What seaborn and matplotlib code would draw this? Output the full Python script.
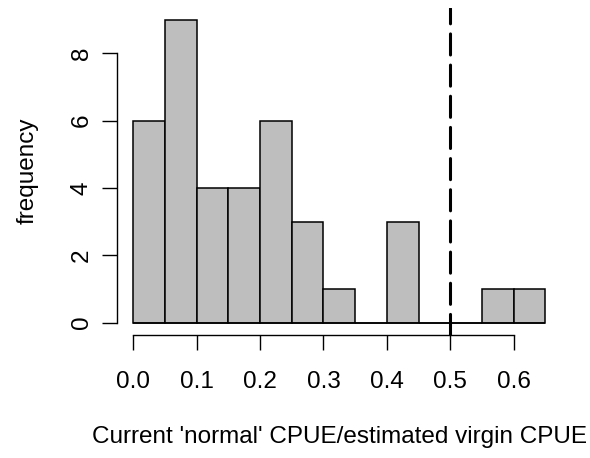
import numpy as np
import pandas as pd
import matplotlib
matplotlib.use("Agg")
import matplotlib.pyplot as plt
import seaborn as sns

# Histogram of the current/virgin CPUE ratio, bin width 0.05
bin_edges = [0.0, 0.05, 0.10, 0.15, 0.20, 0.25, 0.30, 0.35, 0.40, 0.45, 0.50, 0.55, 0.60, 0.65]
counts = [6, 9, 4, 4, 6, 3, 1, 0, 3, 0, 0, 1, 1]
x_ticks = [0.0, 0.1, 0.2, 0.3, 0.4, 0.5, 0.6]
y_ticks = [0, 2, 4, 6, 8]
reference_ratio = 0.5

sns.set_theme(style="white")
plt.rcParams["font.family"] = ["Liberation Sans", "DejaVu Sans"]

edges = np.array(bin_edges)
df = pd.DataFrame({
    "ratio": (edges[:-1] + edges[1:]) / 2,
    "count": counts,
})

fig = plt.figure(figsize=(5.9, 4.58), dpi=100)
ax = fig.add_axes([0.1978, 0.269, 0.9525 - 0.1978, 0.9834 - 0.269])

sns.histplot(data=df, x="ratio", weights="count", bins=bin_edges,
             color="#BEBEBE", alpha=1.0, edgecolor="black", linewidth=1.1, ax=ax)

# empty bins still show their outline along the zero line
ax.hlines(0, edges[0], edges[-1], color="black", linewidth=1.1, zorder=3)

span_x = edges[-1] - edges[0]
ax.set_xlim(edges[0] - 0.04 * span_x, edges[-1] + 0.04 * span_x)
ymax = max(counts)
ax.set_ylim(-0.04 * ymax, ymax * 1.04)

ax.axvline(reference_ratio, color="black", linewidth=2.2,
           linestyle=(0, (6.9, 3.3)), dash_capstyle="round", zorder=4)

for side in ("top", "right"):
    ax.spines[side].set_visible(False)
ax.spines["bottom"].set_bounds(x_ticks[0], x_ticks[-1])
ax.spines["left"].set_bounds(y_ticks[0], y_ticks[-1])
for side in ("bottom", "left"):
    ax.spines[side].set_linewidth(1.0)
    ax.spines[side].set_color("black")

fs = 17.5
ax.set_xticks(x_ticks)
ax.set_xticklabels([f"{t:.1f}" for t in x_ticks])
ax.set_yticks(y_ticks)
ax.set_yticklabels([str(t) for t in y_ticks], rotation=90, va="center")
ax.tick_params(axis="both", direction="out", length=10.6, width=1.0,
               color="black", labelsize=fs, labelcolor="black",
               bottom=True, left=True)
ax.tick_params(axis="x", pad=15.5)
ax.tick_params(axis="y", pad=6.5)

ax.set_xlabel("Current 'normal' CPUE/estimated virgin CPUE", fontsize=fs,
              color="black", labelpad=23.5)
ax.set_ylabel("frequency", fontsize=fs, color="black", labelpad=23)

fig.savefig("out.png", dpi=100, facecolor="white")
